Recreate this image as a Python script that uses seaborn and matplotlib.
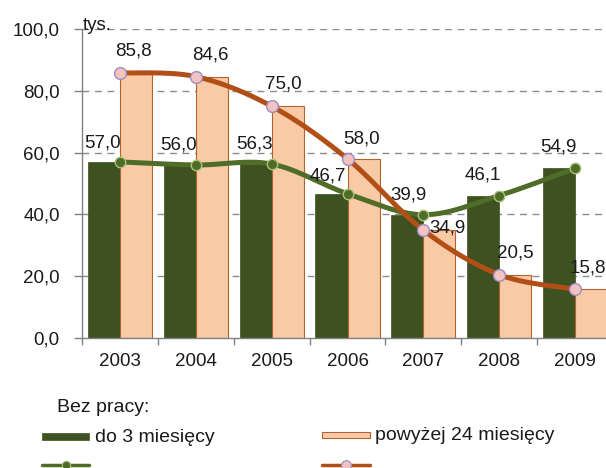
import numpy as np
import pandas as pd
import matplotlib
matplotlib.use("Agg")
import matplotlib.pyplot as plt
import seaborn as sns
from matplotlib.patches import Rectangle
from matplotlib.lines import Line2D

# ---- data ----
years = ["2003", "2004", "2005", "2006", "2007", "2008", "2009"]
short_term = [57.0, 56.0, 56.3, 46.7, 39.9, 46.1, 54.9]      # do 3 miesięcy
long_term = [85.8, 84.6, 75.0, 58.0, 34.9, 20.5, 15.8]       # powyżej 24 miesięcy
series_names = ["do 3 miesięcy", "powyżej 24 miesięcy"]
legend_title = "Bez pracy:"
unit_label = "tys."
y_ticks = [0, 20, 40, 60, 80, 100]

# ---- styles ----
DARK = "#3d5121"
PINK = "#f9caa6"
PINK_EDGE = "#b2632c"
GREEN_LINE = "#4f6d28"
GREEN_MARK_EDGE = "#a9c278"
ORANGE_LINE = "#b24f16"
PINK_MARK = "#f3c3bf"
PINK_MARK_EDGE = "#9c8cc4"
TXT = "#1a1a1a"
FONT = "Liberation Sans"
FS = 13.5
FS_LEG = 14

green_offsets = [(-17, 19), (-17, 20), (-17, 20), (-20, 18), (-15, 20), (-16, 21), (-17, 21)]
pink_offsets = [(14, 22), (15, 22), (12, 22), (14, 20), (24, 2), (16, 22), (13, 21)]

sns.set_style("white")
plt.rcParams["font.family"] = [FONT, "DejaVu Sans"]

W, H = 606, 468
fig = plt.figure(figsize=(W / 100, H / 100), dpi=100)
ax = fig.add_axes([82 / W, 1 - 338 / H, 531 / W, (338 - 29) / H])

df = pd.DataFrame({
    "year": years * 2,
    "value": short_term + long_term,
    "series": [series_names[0]] * len(years) + [series_names[1]] * len(years),
})
sns.barplot(data=df, x="year", y="value", hue="series", order=years,
            hue_order=series_names, palette=[DARK, PINK], width=0.845,
            gap=0, saturation=1, ax=ax, legend=False, zorder=2)

for p in ax.patches:
    fc = matplotlib.colors.to_hex(p.get_facecolor())
    if fc.lower() == PINK.lower():
        p.set_edgecolor(PINK_EDGE)
        p.set_linewidth(0.8)
    else:
        p.set_edgecolor(DARK)
        p.set_linewidth(0.5)


def smooth(xs, ys, n=40):
    pts = np.column_stack([xs, ys]).astype(float)
    out = []
    for i in range(len(pts) - 1):
        p0 = pts[i - 1] if i > 0 else pts[i]
        p1 = pts[i]
        p2 = pts[i + 1]
        p3 = pts[i + 2] if i + 2 < len(pts) else pts[i + 1]
        c1 = p1 + (p2 - p0) / 6
        c2 = p2 - (p3 - p1) / 6
        t = np.linspace(0, 1, n)[:, None]
        seg = (1 - t) ** 3 * p1 + 3 * (1 - t) ** 2 * t * c1 + 3 * (1 - t) * t ** 2 * c2 + t ** 3 * p2
        out.append(seg if i == 0 else seg[1:])
    return np.vstack(out)


xpos = np.arange(len(years))
g = smooth(xpos, short_term)
o = smooth(xpos, long_term)
ax.plot(g[:, 0], g[:, 1], color=GREEN_LINE, lw=3.6, zorder=4, solid_capstyle="round")
ax.plot(o[:, 0], o[:, 1], color=ORANGE_LINE, lw=3.6, zorder=5, solid_capstyle="round")
ax.plot(xpos, short_term, ls="none", marker="o", ms=7.5, mfc=GREEN_LINE,
        mec=GREEN_MARK_EDGE, mew=1.0, zorder=6)
ax.plot(xpos, long_term, ls="none", marker="o", ms=8.5, mfc=PINK_MARK,
        mec=PINK_MARK_EDGE, mew=1.0, zorder=7)

for x, v, off in zip(xpos, short_term, green_offsets):
    ax.annotate(f"{v:.1f}".replace(".", ","), (x, v), xytext=off,
                textcoords="offset pixels", ha="center", va="center",
                fontsize=FS, color=TXT, zorder=8)
for x, v, off in zip(xpos, long_term, pink_offsets):
    ax.annotate(f"{v:.1f}".replace(".", ","), (x, v), xytext=off,
                textcoords="offset pixels", ha="center", va="center",
                fontsize=FS, color=TXT, zorder=8)

# axes
ax.set_xlim(-0.5, len(years) - 0.5)
ax.set_ylim(0, 100)
ax.set_yticks(y_ticks)
ax.set_yticklabels([f"{t:.1f}".replace(".", ",") for t in y_ticks], fontsize=FS, color=TXT)
ax.tick_params(axis="y", length=6, width=1, color="#808080", pad=10, direction="out", left=True)
ax.set_xticks(np.arange(-0.5, len(years) - 0.4, 1.0))
ax.set_xticklabels([])
ax.tick_params(axis="x", which="major", length=5, width=1, color="#808080", direction="out", bottom=True)
ax.set_xticks(xpos, minor=True)
ax.set_xticklabels(years, minor=True, fontsize=FS, color=TXT)
ax.tick_params(axis="x", which="minor", length=0, pad=10.5)
ax.set_xlabel("")
ax.set_ylabel("")
for s in ["top", "right"]:
    ax.spines[s].set_visible(False)
for s in ["left", "bottom"]:
    ax.spines[s].set_color("#808080")
    ax.spines[s].set_linewidth(1)
ax.grid(False)
for t in y_ticks[1:]:
    ax.axhline(t, color="#8c8c8c", lw=1, ls=(0, (5, 4)), zorder=1)

ax.annotate(unit_label, (0.0, 1.0), xycoords="axes fraction", xytext=(1, -1),
            textcoords="offset pixels", ha="left", va="baseline", fontsize=FS, color=TXT)

# legend (manual, figure pixel coords)
def fx(x):
    return x / W


def fy(y):
    return 1 - y / H


fig.text(fx(57), fy(408), legend_title, ha="left", va="center", fontsize=FS_LEG, color=TXT)
fig.patches.append(Rectangle((fx(42), fy(440)), fx(47), 7 / H, transform=fig.transFigure,
                             facecolor=DARK, edgecolor=DARK, lw=0.5))
fig.text(fx(95), fy(437), series_names[0], ha="left", va="center", fontsize=FS_LEG, color=TXT)
fig.patches.append(Rectangle((fx(322), fy(438)), fx(48), 6 / H, transform=fig.transFigure,
                             facecolor=PINK, edgecolor=PINK_EDGE, lw=0.8))
fig.text(fx(375), fy(436), series_names[1], ha="left", va="center", fontsize=FS_LEG, color=TXT)
fig.lines.append(Line2D([fx(42), fx(89)], [fy(465), fy(465)], transform=fig.transFigure,
                        color=GREEN_LINE, lw=2.5))
fig.lines.append(Line2D([fx(65.5)], [fy(465)], transform=fig.transFigure, ls="none",
                        marker="o", ms=6, mfc=GREEN_LINE, mec=GREEN_MARK_EDGE, mew=0.8))
fig.lines.append(Line2D([fx(322), fx(370)], [fy(465), fy(465)], transform=fig.transFigure,
                        color=ORANGE_LINE, lw=2.5))
fig.lines.append(Line2D([fx(346)], [fy(465)], transform=fig.transFigure, ls="none",
                        marker="o", ms=7, mfc=PINK_MARK, mec=PINK_MARK_EDGE, mew=0.8))

fig.savefig("out.png", dpi=100)
